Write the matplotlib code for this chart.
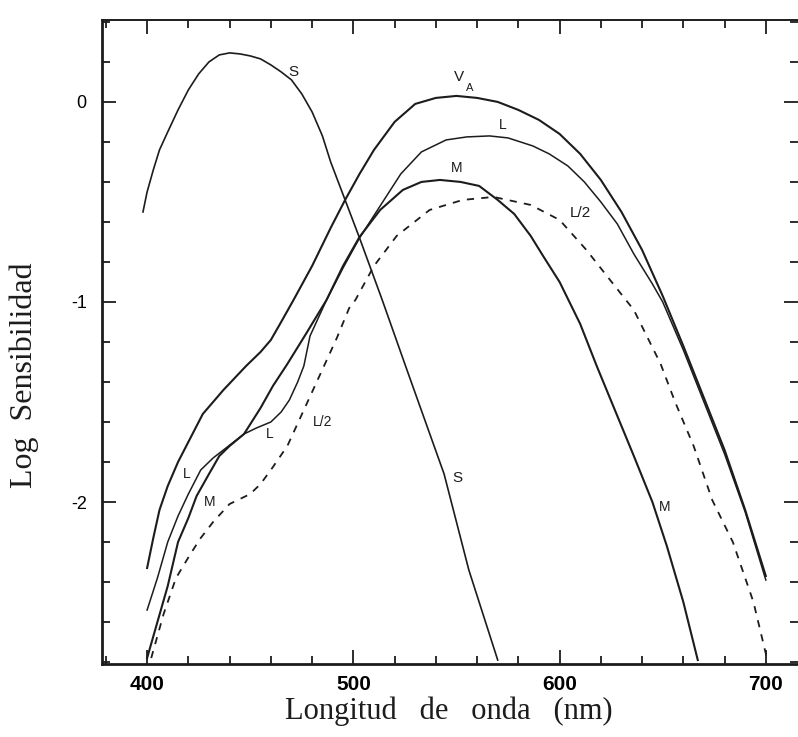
import matplotlib
matplotlib.use("Agg")
import matplotlib.pyplot as plt
from matplotlib.ticker import MultipleLocator

plt.rcParams['axes.unicode_minus'] = False

# curvas (longitud de onda en nm, log sensibilidad)
wl_va = [400, 403, 406, 410, 415, 420, 427, 437, 448, 455, 460, 465, 471, 480, 489, 496,
         503, 510, 520, 530, 540, 550, 560, 570, 580, 590, 600, 610, 620, 630, 640, 650,
         660, 670, 680, 690, 700]
va = [-2.33, -2.18, -2.04, -1.92, -1.80, -1.70, -1.56, -1.44, -1.32, -1.25, -1.19, -1.10,
      -0.99, -0.82, -0.63, -0.49, -0.36, -0.24, -0.10, -0.01, 0.02, 0.03, 0.02, 0.0, -0.04,
      -0.09, -0.16, -0.26, -0.39, -0.55, -0.74, -0.97, -1.22, -1.48, -1.74, -2.04, -2.37]

wl_l = [400, 405, 410, 415, 420, 426, 432, 437, 442, 447, 453, 460, 465, 469, 473, 476, 479,
        483, 487, 495, 503, 513, 523, 533, 545, 555, 566, 575, 587, 595, 604, 612, 620, 628,
        636, 645, 650, 660, 670, 680, 690, 700]
l_cono = [-2.54, -2.38, -2.20, -2.07, -1.96, -1.84, -1.78, -1.74, -1.70, -1.66, -1.63, -1.60,
          -1.55, -1.49, -1.40, -1.32, -1.17, -1.08, -0.99, -0.83, -0.68, -0.52, -0.36, -0.25,
          -0.19, -0.175, -0.17, -0.18, -0.22, -0.26, -0.32, -0.40, -0.50, -0.61, -0.76, -0.91,
          -1.0, -1.24, -1.50, -1.76, -2.05, -2.39]

wl_m = [400, 405, 410, 415, 420, 424, 430, 435, 440, 447, 455, 461, 468, 477, 487, 495, 503,
        513, 524, 533, 542, 552, 561, 570, 578, 586, 592, 600, 610, 618, 628, 636, 645, 652,
        660, 667]
m_cono = [-2.78, -2.60, -2.42, -2.20, -2.08, -1.97, -1.86, -1.77, -1.72, -1.66, -1.53, -1.42,
          -1.31, -1.16, -0.99, -0.82, -0.675, -0.54, -0.44, -0.40, -0.39, -0.40, -0.42, -0.49,
          -0.56, -0.67, -0.77, -0.90, -1.11, -1.32, -1.57, -1.77, -2.0, -2.22, -2.50, -2.79]

wl_l2 = [402, 405, 408, 414, 421, 426, 432, 440, 450, 455, 460, 468, 476, 484, 492, 498, 501,
         510, 521, 537, 553, 568, 586, 600, 613, 626, 636, 649, 656, 665, 674, 684, 694, 700.5]
l_medio = [-2.78, -2.67, -2.56, -2.38, -2.26, -2.18, -2.10, -2.01, -1.96, -1.91, -1.84, -1.72,
           -1.54, -1.36, -1.18, -1.03, -0.99, -0.82, -0.67, -0.54, -0.49, -0.475, -0.515, -0.59,
           -0.74, -0.91, -1.04, -1.31, -1.50, -1.72, -1.99, -2.20, -2.50, -2.78]

wl_s = [398, 400, 403, 406, 410, 415, 420, 425, 430, 435, 440, 445, 450, 455, 460, 465, 470,
        475, 480, 485, 489, 496, 503, 514, 526, 535, 544, 556, 570]
s_cono = [-0.55, -0.45, -0.34, -0.24, -0.15, -0.04, 0.06, 0.14, 0.20, 0.235, 0.245, 0.24, 0.23,
          0.215, 0.185, 0.15, 0.11, 0.04, -0.05, -0.17, -0.30, -0.49, -0.68, -0.99, -1.34,
          -1.60, -1.86, -2.34, -2.79]

# etiquetas de las curvas
etiquetas = ['S', 'S', 'V', 'L', 'M', 'L/2', 'L', 'L', 'M', 'L/2', 'M']
etiq_x = [470.8, 550.3, 551.0, 572.6, 550.3, 609.9, 419.4, 459.6, 430.5, 485.0, 651.0]
etiq_y = [0.15, -1.88, 0.125, -0.115, -0.33, -0.555, -1.86, -1.66, -2.0, -1.60, -2.025]
etiq_tam = [11, 11, 11, 10, 10, 11, 10, 10, 10, 10, 10]

x_ticks = [400, 500, 600, 700]
y_ticks = [-2, -1, 0]
y_tick_labels = ['-2', '-1', '0']

color = '#1c1c1c'

fig = plt.figure(figsize=(7.98, 7.37), dpi=100)
ax = fig.add_axes([0.128, 0.099, 0.872, 0.874])

ax.plot(wl_va, va, color=color, lw=1.5)
ax.plot(wl_l, l_cono, color=color, lw=1.1)
ax.plot(wl_m, m_cono, color=color, lw=1.5)
ax.plot(wl_l2, l_medio, color=color, lw=1.3, linestyle=(0, (4, 4)))
ax.plot(wl_s, s_cono, color=color, lw=1.2)

for t, x, y, fs in zip(etiquetas, etiq_x, etiq_y, etiq_tam):
    ax.text(x, y, t, fontsize=fs, family='Liberation Sans', ha='center', va='center', color=color)
# subindice de V_A
ax.text(556.5, 0.07, 'A', fontsize=8, family='Liberation Sans', ha='center', va='center', color=color)

ax.set_xlim(378.2, 715.6)
ax.set_ylim(-2.81, 0.41)

ax.set_xticks(x_ticks)
ax.set_xticklabels([str(v) for v in x_ticks], fontsize=15, family='Liberation Sans', fontweight='bold')
ax.set_yticks(y_ticks)
ax.set_yticklabels(y_tick_labels, fontsize=13, family='Liberation Sans')
ax.xaxis.set_minor_locator(MultipleLocator(20))
ax.yaxis.set_minor_locator(MultipleLocator(0.2))
ax.tick_params(which='both', direction='in', top=True, right=True, width=1.3, color=color)
ax.tick_params(which='major', length=10)
ax.tick_params(which='minor', length=6)
ax.tick_params(axis='x', which='major', pad=8)
ax.tick_params(axis='y', which='major', pad=11)

ax.spines['right'].set_visible(False)
ax.spines['left'].set_linewidth(2.0)
ax.spines['bottom'].set_linewidth(2.0)
ax.spines['top'].set_linewidth(1.4)
for s in ['left', 'bottom', 'top']:
    ax.spines[s].set_color(color)

fig.text(0.030, 0.491, 'Log  Sensibilidad', rotation=90, fontsize=23,
         family='Liberation Serif', ha='center', va='center', color=color)
fig.text(0.563, 0.024, 'Longitud   de   onda   (nm)', fontsize=22,
         family='Liberation Serif', ha='center', va='baseline', color=color)

fig.savefig('out.png', dpi=100)
